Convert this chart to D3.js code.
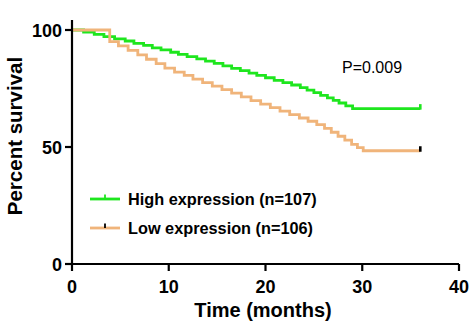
<!DOCTYPE html>
<html><head><meta charset="utf-8">
<script src="https://cdn.jsdelivr.net/npm/d3@7"></script>
<style>body{margin:0;background:#fff}svg{display:block}text{font-family:"Liberation Sans",Arial,sans-serif}</style>
</head><body>
<svg id="c" width="474" height="326"></svg>
<script>
const xTicks = [0, 10, 20, 30, 40];
const yTicks = [0, 50, 100];
const highTimes = [0, 1.2, 2.3, 3.3, 4.4, 5.5, 6.4, 7.4, 8.3, 9.2, 10.2, 11.0, 11.9, 12.9, 13.8, 14.7, 15.6, 16.5, 17.4, 18.3, 19.1, 20.0, 20.9, 21.8, 22.7, 23.6, 24.3, 25.0, 25.7, 26.4, 27.0, 27.6, 28.3, 29.0, 36];
const highSurv  = [100, 99.1, 98.1, 97.2, 96.2, 95.3, 94.3, 93.4, 92.4, 91.5, 90.5, 89.6, 88.6, 87.7, 86.7, 85.7, 84.7, 83.6, 82.6, 81.6, 80.6, 79.6, 78.5, 77.5, 76.5, 75.4, 74.3, 73.2, 72.1, 71.0, 69.9, 68.8, 67.6, 66.4, 66.4];
const lowTimes = [0, 3.9, 4.8, 5.8, 6.8, 7.7, 8.7, 9.6, 10.6, 11.6, 12.5, 13.5, 14.5, 15.5, 16.5, 17.5, 18.5, 19.5, 20.5, 21.5, 22.5, 23.5, 24.4, 25.3, 26.1, 26.8, 27.5, 28.2, 28.9, 29.5, 30.1, 36];
const lowSurv  = [100, 95.0, 93.2, 91.3, 89.4, 87.5, 85.6, 83.7, 82.0, 80.6, 79.0, 77.5, 76.0, 74.5, 73.0, 71.4, 69.8, 68.3, 66.8, 65.3, 63.8, 62.4, 61.0, 59.6, 58.0, 56.3, 54.6, 52.9, 51.1, 49.7, 48.4, 48.4];
const seriesNames = ["High expression (n=107)", "Low expression (n=106)"];
const pText = "P=0.009";

const svg = d3.select("#c");
const x = d3.scaleLinear().domain([0, 40]).range([72, 459]);
const y = d3.scaleLinear().domain([0, 100]).range([264, 30]);
const green = "#1ee61e", orange = "#f0b47a";

// curves
const line = d3.line().x(d => x(d[0])).y(d => y(d[1])).curve(d3.curveStepAfter);
const series = [
  {t: highTimes, s: highSurv, color: green, tick: green},
  {t: lowTimes, s: lowSurv, color: orange, tick: "#000"}
];
series.forEach(sr => {
  const pts = sr.t.map((t, i) => [t, sr.s[i]]);
  svg.append("path").attr("d", line(pts)).attr("fill", "none")
    .attr("stroke", sr.color).attr("stroke-width", 2.8);
  const last = pts[pts.length - 1];
  svg.append("line").attr("x1", x(last[0])).attr("x2", x(last[0]))
    .attr("y1", y(last[1]) + 1).attr("y2", y(last[1]) - 4.5)
    .attr("stroke", sr.tick).attr("stroke-width", 2.6);
});

// axes
svg.append("line").attr("x1", x(0)).attr("x2", x(0)).attr("y1", y(0)).attr("y2", 20)
  .attr("stroke", "#000").attr("stroke-width", 2.2);
svg.append("line").attr("x1", x(0)).attr("x2", x(40)).attr("y1", y(0)).attr("y2", y(0))
  .attr("stroke", "#000").attr("stroke-width", 2.2);
xTicks.forEach(v => {
  svg.append("line").attr("x1", x(v)).attr("x2", x(v)).attr("y1", y(0)).attr("y2", y(0) + 7)
    .attr("stroke", "#000").attr("stroke-width", 2.2);
  svg.append("text").attr("x", x(v)).attr("y", 293).attr("text-anchor", "middle")
    .attr("font-size", 18).attr("font-weight", "bold").text(v);
});
yTicks.forEach(v => {
  svg.append("line").attr("x1", x(0) - 7).attr("x2", x(0)).attr("y1", y(v)).attr("y2", y(v))
    .attr("stroke", "#000").attr("stroke-width", 2.2);
  svg.append("text").attr("x", 62).attr("y", y(v) + 6.5).attr("text-anchor", "end")
    .attr("font-size", 18).attr("font-weight", "bold").text(v);
});
svg.append("text").attr("x", 263).attr("y", 317).attr("text-anchor", "middle")
  .attr("font-size", 20).attr("font-weight", "bold").text("Time (months)");
svg.append("text").attr("transform", "translate(22,136) rotate(-90)").attr("text-anchor", "middle")
  .attr("font-size", 20.5).attr("font-weight", "bold").text("Percent survival");

// P value
svg.append("text").attr("x", 342).attr("y", 73).attr("font-size", 16).text(pText);

// legend
series.forEach((sr, i) => {
  const ly = 199 + i * 29;
  svg.append("line").attr("x1", 90).attr("x2", 120).attr("y1", ly).attr("y2", ly)
    .attr("stroke", sr.color).attr("stroke-width", 2.8);
  svg.append("line").attr("x1", 105).attr("x2", 105).attr("y1", ly).attr("y2", ly - 4.5)
    .attr("stroke", sr.tick).attr("stroke-width", 1.8);
  svg.append("text").attr("x", 128).attr("y", ly + 6).attr("font-size", 16.3)
    .attr("font-weight", "bold").text(seriesNames[i]);
});
</script>
</body></html>
